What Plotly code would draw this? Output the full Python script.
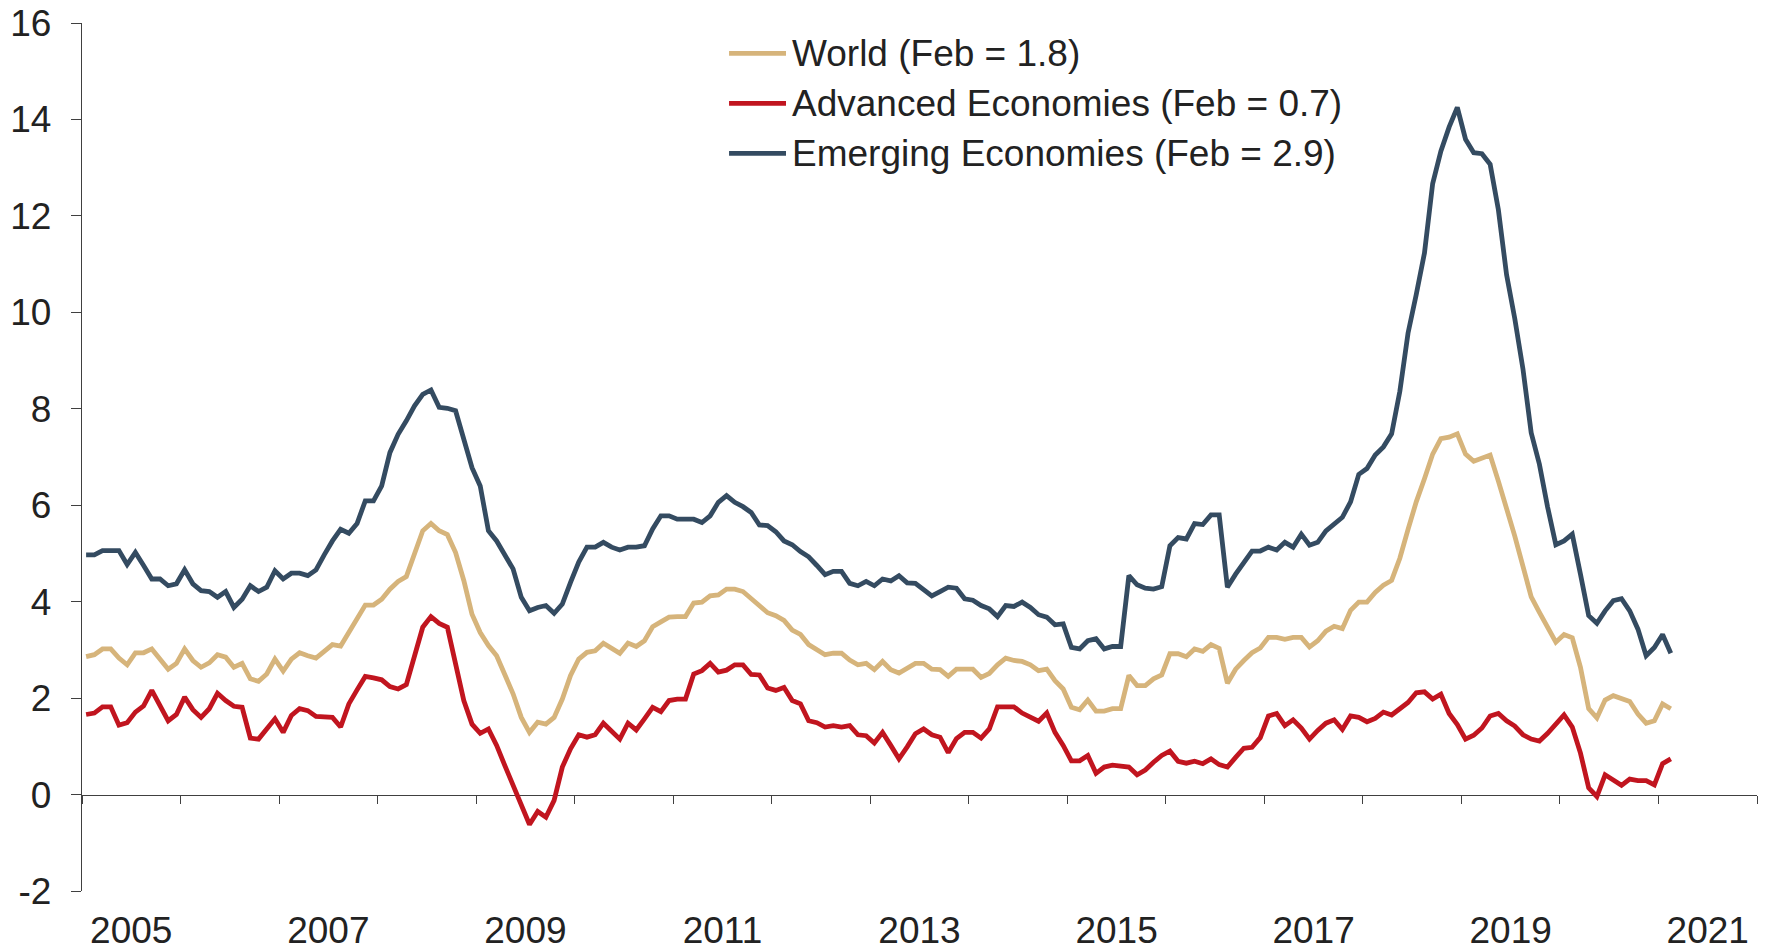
import plotly.graph_objects as go

START_YEAR = 2005
END_YEAR = 2022

world = [2.86, 2.90, 3.02, 3.02, 2.83, 2.69, 2.94, 2.94, 3.02, 2.81, 2.60, 2.72,
         3.02, 2.78, 2.64, 2.73, 2.90, 2.85, 2.64, 2.72, 2.40, 2.35, 2.50, 2.81,
         2.56, 2.81, 2.94, 2.88, 2.83, 2.97, 3.11, 3.08, 3.36, 3.63, 3.93, 3.93,
         4.05, 4.26, 4.42, 4.52, 4.99, 5.47, 5.62, 5.47, 5.39, 5.02, 4.44, 3.74,
         3.36, 3.09, 2.88, 2.50, 2.09, 1.60, 1.29, 1.50, 1.46, 1.60, 1.98, 2.47,
         2.81, 2.95, 2.98, 3.14, 3.02, 2.93, 3.14, 3.07, 3.19, 3.48, 3.58, 3.68,
         3.69, 3.69, 3.97, 3.99, 4.12, 4.14, 4.26, 4.26, 4.21, 4.06, 3.94, 3.77,
         3.71, 3.61, 3.41, 3.32, 3.11, 3.00, 2.90, 2.93, 2.93, 2.79, 2.69, 2.72,
         2.59, 2.76, 2.59, 2.52, 2.63, 2.72, 2.72, 2.60, 2.59, 2.45, 2.60, 2.60,
         2.60, 2.43, 2.51, 2.69, 2.83, 2.78, 2.76, 2.69, 2.57, 2.60, 2.36, 2.19,
         1.81, 1.76, 1.96, 1.73, 1.73, 1.78, 1.78, 2.47, 2.26, 2.26, 2.40, 2.48,
         2.92, 2.92, 2.86, 3.02, 2.97, 3.11, 3.03, 2.31, 2.60, 2.78, 2.94, 3.04,
         3.26, 3.26, 3.22, 3.26, 3.26, 3.06, 3.19, 3.39, 3.49, 3.44, 3.82, 3.99,
         3.99, 4.19, 4.34, 4.44, 4.90, 5.50, 6.07, 6.55, 7.06, 7.38, 7.41, 7.48,
         7.06, 6.91, 6.98, 7.04, 6.50, 5.95, 5.36, 4.73, 4.10, 3.78, 3.47, 3.16,
         3.32, 3.25, 2.64, 1.78, 1.59, 1.96, 2.05, 2.00, 1.93, 1.67, 1.48, 1.53,
         1.88, 1.78]

advanced = [1.66, 1.69, 1.82, 1.82, 1.44, 1.49, 1.71, 1.84, 2.16, 1.84, 1.53, 1.66,
            2.02, 1.76, 1.60, 1.78, 2.10, 1.95, 1.83, 1.81, 1.17, 1.15, 1.36, 1.57,
            1.29, 1.64, 1.78, 1.74, 1.62, 1.60, 1.60, 1.40, 1.88, 2.17, 2.45, 2.42,
            2.38, 2.24, 2.19, 2.28, 2.88, 3.47, 3.69, 3.55, 3.47, 2.71, 1.95, 1.46,
            1.27, 1.36, 1.02, 0.60, 0.19, -0.26, -0.62, -0.35, -0.47, -0.12, 0.57, 0.95,
            1.24, 1.19, 1.24, 1.48, 1.33, 1.15, 1.48, 1.34, 1.57, 1.81, 1.72, 1.95,
            1.98, 1.98, 2.50, 2.57, 2.72, 2.54, 2.58, 2.69, 2.69, 2.49, 2.48, 2.21,
            2.16, 2.22, 1.95, 1.88, 1.53, 1.49, 1.40, 1.43, 1.40, 1.43, 1.24, 1.22,
            1.07, 1.29, 1.02, 0.74, 0.99, 1.26, 1.36, 1.24, 1.19, 0.87, 1.16, 1.29,
            1.29, 1.17, 1.36, 1.82, 1.82, 1.82, 1.69, 1.60, 1.52, 1.69, 1.29, 1.02,
            0.70, 0.70, 0.81, 0.44, 0.57, 0.61, 0.60, 0.57, 0.41, 0.51, 0.67, 0.81,
            0.90, 0.69, 0.65, 0.69, 0.64, 0.74, 0.62, 0.57, 0.77, 0.96, 0.98, 1.18,
            1.63, 1.68, 1.43, 1.55, 1.38, 1.15, 1.33, 1.48, 1.55, 1.35, 1.63, 1.60,
            1.51, 1.58, 1.71, 1.65, 1.78, 1.91, 2.11, 2.13, 1.98, 2.08, 1.68, 1.45,
            1.15, 1.23, 1.38, 1.63, 1.68, 1.53, 1.42, 1.24, 1.15, 1.11, 1.27, 1.46,
            1.65, 1.40, 0.86, 0.14, -0.04, 0.41, 0.30, 0.19, 0.32, 0.29, 0.29, 0.20,
            0.64, 0.74]

emerging = [4.97, 4.97, 5.06, 5.06, 5.06, 4.77, 5.02, 4.75, 4.47, 4.47, 4.33, 4.37,
            4.66, 4.37, 4.23, 4.21, 4.09, 4.21, 3.88, 4.05, 4.33, 4.21, 4.30, 4.64,
            4.47, 4.59, 4.59, 4.54, 4.66, 4.97, 5.26, 5.50, 5.42, 5.62, 6.09, 6.09,
            6.40, 7.09, 7.47, 7.75, 8.06, 8.30, 8.39, 8.03, 8.01, 7.96, 7.34, 6.78,
            6.40, 5.47, 5.26, 4.95, 4.68, 4.09, 3.81, 3.88, 3.92, 3.76, 3.95, 4.40,
            4.82, 5.13, 5.13, 5.23, 5.13, 5.07, 5.13, 5.13, 5.16, 5.51, 5.78, 5.78,
            5.71, 5.71, 5.71, 5.64, 5.78, 6.06, 6.20, 6.06, 5.97, 5.85, 5.59, 5.58,
            5.45, 5.26, 5.18, 5.04, 4.93, 4.75, 4.56, 4.63, 4.63, 4.38, 4.33, 4.42,
            4.33, 4.47, 4.43, 4.54, 4.39, 4.38, 4.26, 4.12, 4.21, 4.30, 4.28, 4.06,
            4.03, 3.92, 3.85, 3.69, 3.92, 3.90, 3.99, 3.88, 3.73, 3.68, 3.52, 3.54,
            3.05, 3.02, 3.19, 3.23, 3.02, 3.07, 3.07, 4.54, 4.35, 4.28, 4.26, 4.31,
            5.16, 5.33, 5.30, 5.62, 5.60, 5.80, 5.80, 4.30, 4.57, 4.80, 5.05, 5.05,
            5.13, 5.07, 5.23, 5.13, 5.40, 5.17, 5.23, 5.47, 5.60, 5.75, 6.07, 6.64,
            6.76, 7.04, 7.21, 7.48, 8.36, 9.57, 10.37, 11.23, 12.67, 13.34, 13.84, 14.25,
            13.59, 13.31, 13.29, 13.07, 12.13, 10.78, 9.87, 8.82, 7.50, 6.85, 5.96, 5.18,
            5.26, 5.40, 4.57, 3.71, 3.55, 3.81, 4.02, 4.06, 3.81, 3.43, 2.88, 3.05,
            3.32, 2.93]

series_names = ["World (Feb = 1.8)", "Advanced Economies (Feb = 0.7)",
                "Emerging Economies (Feb = 2.9)"]
series_values = [world, advanced, emerging]
series_colors = ["#D6B47B", "#C1151F", "#344B61"]
# World sits on the overlay axis so both x axes carry data
series_xaxis = ["x2", "x", "x"]

label_years = [2005, 2007, 2009, 2011, 2013, 2015, 2017, 2019, 2021]
y_ticks = list(range(-2, 17, 2))
y_tick_text = [str(v) for v in y_ticks]  # plain hyphen for "-2"

# monthly points, centred in each month of the year interval
months = [START_YEAR + (i + 0.5) / 12 for i in range(len(world))]

FONT = "Liberation Sans, Arial, sans-serif"
TXT = "#222222"
AX = "#404040"

fig = go.Figure()
for name, vals, col, xa in zip(series_names, series_values, series_colors, series_xaxis):
    fig.add_trace(go.Scatter(x=months, y=vals, mode="lines", name=name, xaxis=xa,
                             yaxis="y", line=dict(color=col, width=4.8),
                             showlegend=False, hoverinfo="skip"))

# manual legend (line samples + text)
leg_y = [0.9651, 0.9075, 0.8499]
for name, col, yy in zip(series_names, series_colors, leg_y):
    fig.add_shape(type="line", xref="paper", yref="paper", x0=0.3863, x1=0.4203,
                  y0=yy, y1=yy, line=dict(color=col, width=4.8))
    fig.add_annotation(xref="paper", yref="paper", x=0.4228, y=yy, text=name,
                       showarrow=False, xanchor="left", yanchor="middle",
                       font=dict(family=FONT, size=37, color=TXT))

# the page body adds an 8px offset, so the figure is shifted to compensate
fig.update_layout(
    width=1760, height=944,
    margin=dict(l=74, r=11, t=15, b=61, pad=0),
    paper_bgcolor="white", plot_bgcolor="white",
    font=dict(family=FONT, size=37, color=TXT),
    xaxis=dict(range=[START_YEAR, END_YEAR], anchor="free", position=2 / 18,
               tickmode="array", tickvals=list(range(START_YEAR, END_YEAR + 1)),
               ticks="outside", ticklen=8, tickwidth=1.3, tickcolor=AX,
               showticklabels=False, showline=True, linecolor=AX, linewidth=1.3,
               showgrid=False, zeroline=False, layer="below traces", automargin=False),
    xaxis2=dict(range=[START_YEAR, END_YEAR], overlaying="x", anchor="y", side="bottom",
                tickmode="array", tickvals=[y + 0.5 for y in label_years],
                ticktext=[str(y) for y in label_years], ticks="",
                showline=False, showgrid=False, zeroline=False, automargin=False,
                ticklabelstandoff=14, ticklabeloverflow="allow",
                tickfont=dict(family=FONT, size=37, color=TXT)),
    yaxis=dict(range=[-2, 16], tickmode="array", tickvals=y_ticks, ticktext=y_tick_text,
               ticks="outside", ticklen=10, tickwidth=1.3, tickcolor=AX,
               showline=True, linecolor=AX, linewidth=1.3, showgrid=False,
               zeroline=False, tickfont=dict(family=FONT, size=37, color=TXT),
               layer="below traces", automargin=False, ticklabelstandoff=12,
               ticklabeloverflow="allow"),
)

fig.write_html("out.html")
